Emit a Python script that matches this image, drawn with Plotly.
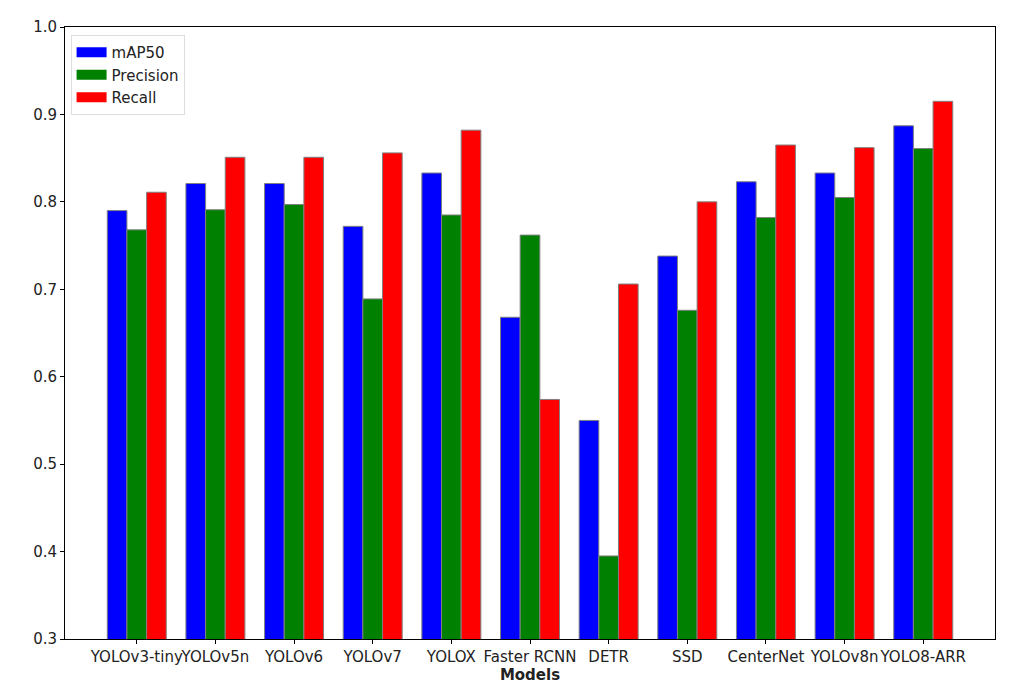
import numpy as np
import plotly.graph_objects as go

models = ["YOLOv3-tiny", "YOLOv5n", "YOLOv6", "YOLOv7", "YOLOX", "Faster RCNN",
          "DETR", "SSD", "CenterNet", "YOLOv8n", "YOLO8-ARR"]
map50 = [0.790, 0.821, 0.821, 0.772, 0.833, 0.668, 0.550, 0.738, 0.823, 0.833, 0.887]
precision = [0.768, 0.791, 0.797, 0.689, 0.785, 0.762, 0.395, 0.676, 0.782, 0.805, 0.861]
recall = [0.811, 0.851, 0.851, 0.856, 0.882, 0.574, 0.706, 0.800, 0.865, 0.862, 0.915]
series_names = ["mAP50", "Precision", "Recall"]
colors = ["blue", "green", "red"]
y_ticks = [0.3, 0.4, 0.5, 0.6, 0.7, 0.8, 0.9, 1.0]

bar_w = 0.25
pos = np.arange(len(models))

fig = go.Figure()
for k, (name, vals, col) in enumerate(zip(series_names, [map50, precision, recall], colors)):
    fig.add_trace(go.Bar(
        x=pos + k * bar_w,
        y=vals,
        width=bar_w,
        name=name,
        showlegend=False,
        marker=dict(color=col, line=dict(color="grey", width=1)),
    ))
# legend entries drawn as wide rectangles (matplotlib style)
for name, col in zip(series_names, colors):
    fig.add_trace(go.Scatter(
        x=[None], y=[None], mode="lines", name=name,
        line=dict(color=col, width=10),
    ))

fig.update_layout(
    width=1021, height=700,
    margin=dict(l=57, r=34, t=19, b=69, autoexpand=False),
    paper_bgcolor="white", plot_bgcolor="white",
    font=dict(family="DejaVu Sans", size=15, color="#222222"),
    barmode="overlay",
    showlegend=True,
    legend=dict(
        x=0.006, y=0.987, xanchor="left", yanchor="top",
        bgcolor="rgba(255,255,255,0.8)", bordercolor="#dddddd", borderwidth=1,
        font=dict(size=15), tracegroupgap=0,
    ),
)
fig.update_xaxes(
    range=[-0.6625, 11.1625],
    tickmode="array", tickvals=pos + bar_w, ticktext=models, tickangle=0,
    automargin=False,
    showline=True, linecolor="black", linewidth=1, mirror=True,
    ticks="outside", ticklen=4, tickcolor="black",
    showgrid=False, zeroline=False,
    title=dict(text="<b>Models</b>", font=dict(size=15), standoff=4),
)
fig.update_yaxes(
    range=[0.3, 1.0], automargin=False,
    tickmode="array", tickvals=y_ticks, tickformat=".1f",
    showline=True, linecolor="black", linewidth=1, mirror=True,
    ticks="outside", ticklen=4, tickcolor="black",
    showgrid=False, zeroline=False,
)

fig.write_html("out.html")
